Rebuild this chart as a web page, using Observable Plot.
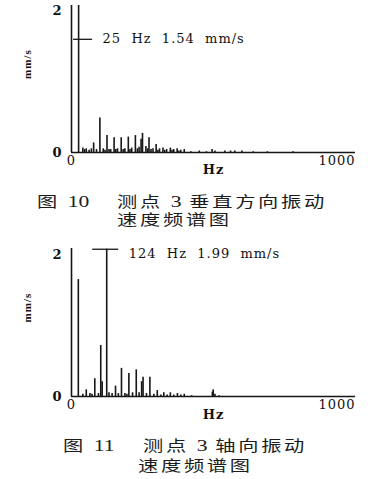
<!DOCTYPE html>
<html><head><meta charset="utf-8">
<script src="https://cdn.jsdelivr.net/npm/d3@7"></script>
<script src="https://cdn.jsdelivr.net/npm/@observablehq/plot@0.6"></script>
<style>
body{margin:0;background:#fff;}
#wrap{position:relative;width:383px;height:479px;overflow:hidden;background:#fff;}
.chart{position:absolute;left:0;}
.cap{position:absolute;white-space:pre;font-family:"Liberation Serif","Noto Sans CJK SC",serif;font-size:15px;line-height:20px;letter-spacing:2px;color:#1c1c1c;transform:scaleX(1.35);transform-origin:0 50%;}
.cap .n{letter-spacing:0;font-size:16px;}
</style></head><body><div id="wrap"></div>
<script>
// Figure 10: vertical vibration velocity spectrum (Hz, mm/s)
const fig10Freq = [25, 40, 46, 52, 62, 70, 78, 88, 100, 112, 118, 125, 132, 138, 150, 156, 162, 175, 182, 188, 200, 206, 212, 225, 232, 238, 245, 250, 262, 268, 273, 280, 287, 298, 304, 310, 322, 328, 335, 348, 354, 360, 372, 378, 385, 397, 420, 450, 475, 495, 505, 540, 560, 575, 600, 640, 690, 780];
const fig10Amp  = [2.0, 0.06, 0.04, 0.05, 0.03, 0.05, 0.13, 0.04, 0.47, 0.05, 0.03, 0.23, 0.04, 0.04, 0.20, 0.04, 0.05, 0.20, 0.04, 0.05, 0.21, 0.04, 0.06, 0.23, 0.05, 0.07, 0.18, 0.26, 0.08, 0.05, 0.20, 0.04, 0.05, 0.11, 0.03, 0.05, 0.06, 0.03, 0.04, 0.06, 0.03, 0.04, 0.05, 0.02, 0.03, 0.04, 0.01, 0.02, 0.01, 0.04, 0.02, 0.02, 0.02, 0.02, 0.02, 0.01, 0.01, 0.01];
const fig10Note = {freq: 25, value: 1.54, label: "25 Hz 1.54 mm/s"};

// Figure 11: axial vibration velocity spectrum (Hz, mm/s)
const fig11Freq = [24, 40, 52, 65, 72, 82, 95, 103, 108, 124, 132, 143, 155, 165, 176, 188, 195, 202, 215, 228, 238, 247, 252, 264, 276, 290, 302, 315, 325, 337, 348, 360, 373, 385, 397, 423, 496, 499, 505, 520];
const fig11Amp  = [1.58, 0.03, 0.09, 0.04, 0.03, 0.24, 0.04, 0.69, 0.20, 1.99, 0.05, 0.04, 0.14, 0.04, 0.38, 0.04, 0.03, 0.31, 0.05, 0.36, 0.05, 0.20, 0.26, 0.04, 0.26, 0.03, 0.08, 0.02, 0.05, 0.02, 0.05, 0.02, 0.04, 0.02, 0.03, 0.01, 0.06, 0.09, 0.03, 0.01];
const fig11Note = {freq: 124, value: 1.99, label: "124 Hz 1.99 mm/s"};

const xTicks = [0, 1000];
const yTicks = [0, 2];
const xLabel = "Hz";
const yLabel = "mm/s";

const cap10 = ["图 10", "测点 3 垂直方向振动", "速度频谱图"];
const cap11 = ["图 11", "测点 3 轴向振动", "速度频谱图"];

const ink = "#161616";
const fmt = d => String(d);

function spectrum(freqs, amps, note, cfg) {
  const rows = freqs.map((f, i) => ({f, a: amps[i]}));
  const plotH = cfg.plotH;
  return Plot.plot({
    width: 383,
    height: 5 + plotH + 30,
    marginLeft: 71, marginRight: 28, marginTop: 5, marginBottom: 30,
    x: {domain: [xTicks[0], xTicks[1]]},
    y: {domain: [yTicks[0], yTicks[1]]},
    style: "font-family:'DejaVu Serif';font-size:13px;letter-spacing:1px;color:#111;background:transparent;overflow:visible;",
    marks: [
      Plot.ruleX(rows, {x: "f", y1: 0, y2: "a", stroke: ink, strokeWidth: 1.6}),
      Plot.ruleX([0], {stroke: ink, strokeWidth: 1.6}),
      Plot.ruleY([0], {stroke: ink, strokeWidth: 1.6}),
      Plot.axisX({ticks: [xTicks[0]], tickFormat: fmt, tickSize: 0, tickPadding: 3, label: null}),
      Plot.axisX({ticks: [xTicks[1]], tickFormat: fmt, tickSize: 0, tickPadding: 3, textAnchor: "end", label: null}),
      Plot.axisY({ticks: [yTicks[0]], tickFormat: fmt, tickSize: 0, tickPadding: 9, label: null, fontWeight: "bold"}),
      Plot.axisY({ticks: [yTicks[1]], tickFormat: fmt, tickSize: 0, tickPadding: 9, dy: cfg.twoDy, label: null, fontWeight: "bold"}),
      Plot.text([yLabel], {frameAnchor: "left", rotate: -90, dx: -44, fontFamily: "Liberation Serif", fontWeight: "bold", fontSize: 11}),
      Plot.text([xLabel], {frameAnchor: "bottom", dy: cfg.hzDy, fontWeight: "bold"}),
      Plot.ruleY([note], {y: "value", x1: "freq", x2: "freq", insetLeft: cfg.inL, insetRight: cfg.inR, stroke: ink, strokeWidth: 1.3}),
      Plot.text([note], {x: "freq", y: "value", text: d => d.label.replace(/ /g, "\u00a0\u00a0"), textAnchor: "start", dx: cfg.textDx, dy: cfg.textDy})
    ]
  });
}

const wrap = document.getElementById("wrap");

function place(el, top) {
  el.classList.add("chart");
  el.style.top = top + "px";
  wrap.appendChild(el);
}
function caption(text, left, top) {
  const d = document.createElement("div");
  d.className = "cap";
  for (const part of text.match(/[0-9]+|[^0-9]+/g)) {
    const s = document.createElement("span");
    if (/[0-9]/.test(part)) s.className = "n";
    s.textContent = part;
    d.appendChild(s);
  }
  d.style.left = left + "px";
  d.style.top = top + "px";
  wrap.appendChild(d);
}

place(spectrum(fig10Freq, fig10Amp, fig10Note, {plotH: 147, twoDy: 5, hzDy: 21, inL: -5, inR: -14, textDx: 24, textDy: 0}), 0);
caption(cap10[0], 37, 192);
caption(cap10[1], 117, 192);
caption(cap10[2], 117, 210);

place(spectrum(fig11Freq, fig11Amp, fig11Note, {plotH: 148, twoDy: 6, hzDy: 22, inL: -14, inR: -12, textDx: 22, textDy: 5}), 243);
caption(cap11[0], 63, 436);
caption(cap11[1], 143, 436);
caption(cap11[2], 138, 456);
</script>
</body></html>
